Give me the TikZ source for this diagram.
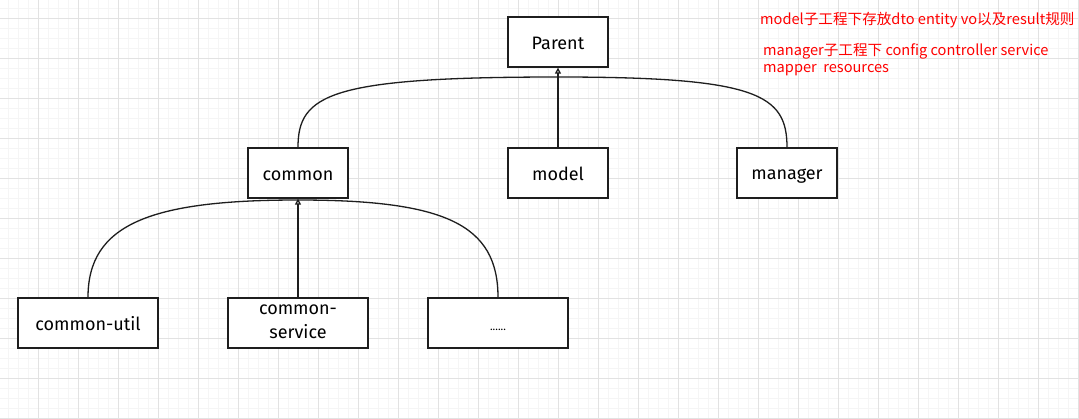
\documentclass[tikz,border=0pt]{standalone}
\usepackage{fontspec}
\setmainfont{Fira Sans}
\newfontfamily\cjkfont{Noto Sans CJK SC}
\usetikzlibrary{arrows.meta}
\definecolor{inkline}{HTML}{1E1E1E}
\definecolor{gridmajor}{HTML}{E2E2E2}
\definecolor{gridminor}{HTML}{F5F5F5}
\definecolor{notered}{HTML}{FF0000}
\newcommand{\modstrut}{\rule[-2pt]{0pt}{18pt}}

\begin{document}
\begin{tikzpicture}[x=1pt, y=-1pt,
  module/.style={draw=inkline, line width=1.3pt, fill=white, minimum width=100pt, minimum height=50pt, inner sep=0pt, font=\fontsize{18}{24}\selectfont, align=center, execute at begin node=\modstrut},
  widemodule/.style={module, minimum width=140pt},
  link/.style={draw=inkline, line width=1.3pt},
  uparrow/.style={link, -{Triangle[open, length=6pt, width=6pt]}},
  note/.style={text=notered, font=\cjkfont\fontsize{14.6}{18}\selectfont, anchor=west, inner sep=0pt}]
\useasboundingbox[fill=white] (0,0) rectangle (1079,418);
% paper grid
\foreach \gx in {8,18,...,1078} \draw[gridminor, line width=0.8pt] (\gx,0) -- (\gx,418);
\foreach \gy in {8,18,...,418} \draw[gridminor, line width=0.8pt] (0,\gy) -- (1079,\gy);
\foreach \gx in {38,78,...,1078} \draw[gridmajor, line width=1pt] (\gx,0) -- (\gx,418);
\foreach \gy in {18,58,...,418} \draw[gridmajor, line width=1pt] (0,\gy) -- (1079,\gy);
% modules
\node[module] (parent) at (558,42) {Parent};
\node[module] (common) at (298,173) {common};
\node[module] (model) at (558,173) {model};
\node[module] (manager) at (787,173) {manager};
\node[widemodule] (util) at (88,323) {common-util};
\node[widemodule] (service) at (298,323) {common-\\service};
\node[widemodule, font=\fontsize{11}{24}\selectfont] (more) at (498,323) {......};
\coordinate (tophub) at (558,77);
\coordinate (lowhub) at (298,200);
% connectors
\draw[link] (common.north) .. controls +(0,-53) and +(-228,0) .. (tophub)
  .. controls +(199,0) and +(0,-53) .. (manager.north);
\draw[uparrow] (model.north) -- (parent.south);
\draw[link] (util.north) .. controls +(0,-73) and +(-148,0) .. (lowhub)
  .. controls +(147,0) and +(0,-73) .. (more.north);
\draw[uparrow] (service.north) -- (common.south);
% notes
\node[note] (note1) at (760,20) {model子工程下存放dto entity vo以及result规则};
\node[note] (note2) at (763,51) {manager子工程下 config controller service};
\node[note] (note3) at (763,70) {mapper\ \ resources};
\end{tikzpicture}
\end{document}
